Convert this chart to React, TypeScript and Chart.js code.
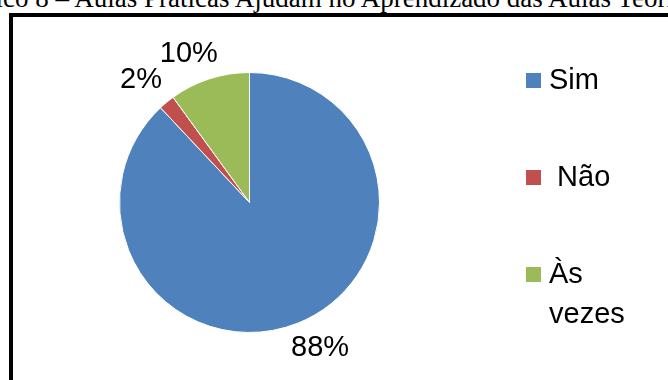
import React, { useEffect, useRef } from "react";
import { Chart, registerables } from "chart.js";

Chart.register(...registerables);

const categories = ["Sim", " Não", "Às vezes"];
const values = [88, 2, 10];
const colors = ["#4F81BD", "#C0504D", "#9BBB59"];
const titleText = "Gráfico 8 – Aulas Práticas Ajudam no Aprendizado das Aulas Teóricas";

const FONT = '"Liberation Sans", Arial, sans-serif';

const labelPlugin = {
  id: "outLabels",
  afterDatasetsDraw(chart: any) {
    const ctx = chart.ctx;
    const meta = chart.getDatasetMeta(0);
    const data = chart.data.datasets[0].data as number[];
    const total = data.reduce((a: number, b: number) => a + b, 0);
    ctx.save();
    ctx.font = `29px ${FONT}`;
    ctx.fillStyle = "#000";
    ctx.textAlign = "center";
    ctx.textBaseline = "middle";
    meta.data.forEach((arc: any, i: number) => {
      const p = arc.getProps(["x", "y", "startAngle", "endAngle", "outerRadius"], true);
      const mid = (p.startAngle + p.endAngle) / 2;
      const txt = Math.round((data[i] / total) * 100) + "%";
      const w = ctx.measureText(txt).width;
      const h = 23;
      const gap = 14;
      const c = Math.cos(mid);
      const s = Math.sin(mid);
      const px = p.x + c * (p.outerRadius + gap);
      const py = p.y + s * (p.outerRadius + gap);
      const fx = Math.sign(c) * Math.sqrt(Math.abs(c));
      const cx = px + fx * (w / 2);
      const cy = py + Math.sign(s) * (h / 2);
      ctx.fillText(txt, cx, cy);
    });
    ctx.restore();
  },
};

const legendPlugin = {
  id: "sideLegend",
  afterDraw(chart: any) {
    const ctx = chart.ctx;
    const labels = chart.data.labels as string[];
    const bg = chart.data.datasets[0].backgroundColor as string[];
    const boxX = 526;
    const top0 = 73;
    const spacing = 97;
    const box = 15;
    const textX = 549;
    const maxW = 100;
    const lineH = 40;
    ctx.save();
    ctx.font = `29px ${FONT}`;
    ctx.textAlign = "left";
    ctx.textBaseline = "alphabetic";
    labels.forEach((lab, i) => {
      const top = top0 + i * spacing;
      ctx.fillStyle = bg[i];
      ctx.fillRect(boxX, top, box, box);
      let lines: string[] = [];
      if (ctx.measureText(lab).width <= maxW) {
        lines = [lab];
      } else {
        const words = lab.split(" ");
        let cur = "";
        words.forEach((wd) => {
          const test = cur ? cur + " " + wd : wd;
          if (cur && ctx.measureText(test).width > maxW) {
            lines.push(cur);
            cur = wd;
          } else {
            cur = test;
          }
        });
        if (cur) lines.push(cur);
      }
      ctx.fillStyle = "#000";
      lines.forEach((ln, j) => {
        ctx.fillText(ln, textX, top + 16 + j * lineH);
      });
    });
    ctx.restore();
  },
};

export default function App() {
  const ref = useRef<HTMLCanvasElement | null>(null);

  useEffect(() => {
    if (!ref.current) return;
    const chart = new Chart(ref.current, {
      type: "pie",
      data: {
        labels: categories,
        datasets: [
          {
            data: values,
            backgroundColor: colors,
            borderColor: "#ffffff",
            borderWidth: 1,
            hoverOffset: 0,
          },
        ],
      },
      options: {
        responsive: false,
        animation: false,
        layout: { padding: { left: 119, right: 288, top: 72, bottom: 47 } },
        plugins: {
          legend: { display: false },
          tooltip: { enabled: false },
          title: { display: false },
        },
      },
      plugins: [labelPlugin, legendPlugin],
    });
    return () => chart.destroy();
  }, []);

  return (
    <div
      style={{
        position: "fixed",
        left: 0,
        top: 0,
        width: 668,
        height: 380,
        background: "#fff",
        overflow: "hidden",
      }}
    >
      <div
        style={{
          position: "absolute",
          left: -54,
          top: -15,
          fontFamily: '"Liberation Serif", "Times New Roman", serif',
          fontSize: 27,
          lineHeight: "27px",
          whiteSpace: "nowrap",
          color: "#000",
        }}
      >
        {titleText}
      </div>
      <div
        style={{
          position: "absolute",
          left: 9,
          top: 13,
          width: 720,
          height: 420,
          border: "4px solid #000",
          boxSizing: "border-box",
        }}
      />
      <canvas
        ref={ref}
        width={668}
        height={380}
        style={{ position: "absolute", left: 0, top: 0 }}
      />
    </div>
  );
}
